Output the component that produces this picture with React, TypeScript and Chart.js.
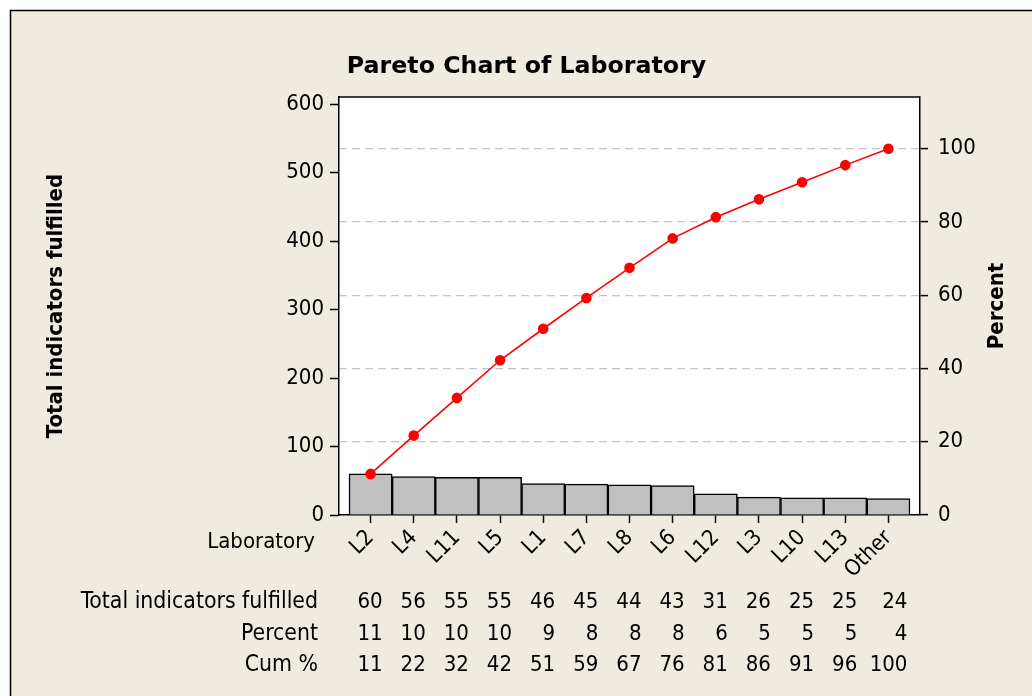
import React, { useEffect, useRef } from "react";
import { Chart, registerables } from "chart.js";

Chart.register(...registerables);

// ---- data ----
const categories = ["L2", "L4", "L11", "L5", "L1", "L7", "L8", "L6", "L12", "L3", "L10", "L13", "Other"];
const counts = [60, 56, 55, 55, 46, 45, 44, 43, 31, 26, 25, 25, 24];
const percents = [11, 10, 10, 10, 9, 8, 8, 8, 6, 5, 5, 5, 4];
const cumPercents = [11, 22, 32, 42, 51, 59, 67, 76, 81, 86, 91, 96, 100];
const countTicks = [0, 100, 200, 300, 400, 500, 600];
const percentTicks = [0, 20, 40, 60, 80, 100];
const countAxisMax = 610.5;

const total = counts.reduce((a, b) => a + b, 0);
const cumulativeCounts = counts.reduce<number[]>((acc, v) => {
  acc.push((acc.length ? acc[acc.length - 1] : 0) + v);
  return acc;
}, []);
const percentAxisMax = (countAxisMax / total) * 100;

const FAMILY = "'DejaVu Sans Condensed', 'DejaVu Sans', sans-serif";
const WIDE = "'DejaVu Sans', sans-serif";
const BG = "#efebe1";
const TICK_SIZE = 22;

const decorPlugin = {
  id: "decor",
  beforeDraw(chart: any) {
    const { ctx, width, height, chartArea: a } = chart;
    ctx.save();
    ctx.fillStyle = "#ffffff";
    ctx.fillRect(0, 0, width, height);
    ctx.fillStyle = BG;
    ctx.fillRect(10, 10, width - 10, height - 10);
    ctx.strokeStyle = "#000";
    ctx.lineWidth = 1.5;
    ctx.beginPath();
    ctx.moveTo(10.5, height);
    ctx.lineTo(10.5, 10.5);
    ctx.lineTo(width, 10.5);
    ctx.stroke();
    ctx.fillStyle = "#ffffff";
    ctx.fillRect(a.left, a.top, a.right - a.left, a.bottom - a.top);
    ctx.restore();
  },
  afterDraw(chart: any) {
    const { ctx, chartArea: a } = chart;
    const xs = chart.scales.x;
    ctx.save();
    // top frame line
    ctx.strokeStyle = "#000";
    ctx.lineWidth = 1.5;
    ctx.beginPath();
    ctx.moveTo(a.left, a.top);
    ctx.lineTo(a.right, a.top);
    ctx.stroke();

    ctx.fillStyle = "#000";
    // title
    ctx.font = `bold 23.7px ${WIDE}`;
    ctx.textAlign = "center";
    ctx.textBaseline = "alphabetic";
    ctx.fillText("Pareto Chart of Laboratory", 526.5, 73);

    // axis titles
    ctx.font = `bold 22px ${FAMILY}`;
    ctx.save();
    ctx.translate(62, (a.top + a.bottom) / 2);
    ctx.rotate(-Math.PI / 2);
    ctx.fillText("Total indicators fulfilled", 0, 0);
    ctx.restore();

    ctx.save();
    ctx.translate(1003, (a.top + a.bottom) / 2);
    ctx.rotate(-Math.PI / 2);
    ctx.fillText("Percent", 0, 0);
    ctx.restore();

    // category axis name
    ctx.font = `${TICK_SIZE}px ${FAMILY}`;
    ctx.textAlign = "right";
    ctx.fillText("Laboratory", 315, 548);

    // table
    const rows: [string, number[], number][] = [
      ["Total indicators fulfilled", counts, 608],
      ["Percent", percents, 640],
      ["Cum %", cumPercents, 671],
    ];
    rows.forEach(([label, vals, y]) => {
      ctx.textAlign = "right";
      ctx.font = `22.8px ${FAMILY}`;
      ctx.fillText(label, 318, y);
      ctx.font = `${TICK_SIZE}px ${FAMILY}`;
      vals.forEach((v, i) => {
        const extra = i === vals.length - 1 ? 19 : 12;
        ctx.fillText(String(v), xs.getPixelForValue(i) + extra, y);
      });
    });
    ctx.restore();
  },
};

export default function App() {
  const ref = useRef<HTMLCanvasElement | null>(null);
  useEffect(() => {
    if (!ref.current) return;
    const pad = 0.232;
    const chart = new Chart(ref.current, {
      type: "bar",
      data: {
        datasets: [
          {
            type: "line",
            label: "Cum",
            data: cumulativeCounts.map((v, i) => ({ x: i, y: v })),
            borderColor: "#ff0000",
            backgroundColor: "#ff0000",
            borderWidth: 1.6,
            pointRadius: 4.5,
            pointBackgroundColor: "#ff0000",
            pointBorderColor: "#ff0000",
            xAxisID: "x",
            yAxisID: "y",
            order: 0,
          } as any,
          {
            type: "bar",
            label: "Count",
            data: counts.map((v, i) => ({ x: i, y: v })),
            backgroundColor: "#c0c0c0",
            borderColor: "#000000",
            borderWidth: 1.5,
            barPercentage: 1,
            categoryPercentage: 1,
            xAxisID: "x",
            yAxisID: "y",
            order: 1,
          } as any,
        ],
      },
      options: {
        responsive: false,
        animation: false,
        layout: { padding: { top: 97, left: 0, right: 0, bottom: 0 } },
        plugins: {
          legend: { display: false },
          tooltip: { enabled: false },
          title: { display: false },
        },
        scales: {
          x: {
            type: "linear",
            offset: false,
            min: -0.5 - pad,
            max: categories.length - 0.5 + pad,
            afterBuildTicks: (s: any) => {
              s.ticks = categories.map((_, i) => ({ value: i }));
            },
            afterFit: (s: any) => {
              s.height = 181;
            },
            ticks: {
              callback: (v: any) => categories[v as number],
              autoSkip: false,
              minRotation: 45,
              maxRotation: 45,
              color: "#000",
              padding: 2,
              font: { family: FAMILY, size: TICK_SIZE },
            },
            grid: {
              offset: false,
              drawOnChartArea: false,
              drawTicks: true,
              tickLength: 8,
              tickColor: "#000",
              tickWidth: 1.5,
            },
            border: { display: true, color: "#000", width: 1.5 },
          },
          y: {
            position: "left",
            min: 0,
            max: countAxisMax,
            afterBuildTicks: (s: any) => {
              s.ticks = countTicks.map((v) => ({ value: v }));
            },
            afterFit: (s: any) => {
              s.width = 339;
            },
            ticks: {
              color: "#000",
              padding: 6,
              font: { family: FAMILY, size: TICK_SIZE },
            },
            grid: {
              drawOnChartArea: false,
              tickLength: 9,
              tickColor: "#000",
              tickWidth: 1.5,
            },
            border: { display: true, color: "#000", width: 1.5 },
          },
          y1: {
            position: "right",
            min: 0,
            max: percentAxisMax,
            afterBuildTicks: (s: any) => {
              s.ticks = percentTicks.map((v) => ({ value: v }));
            },
            afterFit: (s: any) => {
              s.width = 112;
            },
            ticks: {
              color: "#000",
              padding: 10,
              font: { family: FAMILY, size: TICK_SIZE },
            },
            grid: {
              drawOnChartArea: true,
              color: (c: any) => (c.tick && c.tick.value === 0 ? "rgba(0,0,0,0)" : "#c4c4c4"),
              lineWidth: 1.2,
              tickLength: 8,
              tickColor: "#000",
              tickWidth: 1.5,
              tickBorderDash: [],
            },
            border: { display: true, color: "#000", width: 1.5, dash: [8, 5] },
          },
        },
      } as any,
      plugins: [decorPlugin],
    });
    return () => chart.destroy();
  }, []);

  return (
    <div style={{ position: "absolute", left: 0, top: 0, width: 1032, height: 696 }}>
      <canvas ref={ref} width={1032} height={696} style={{ display: "block" }} />
    </div>
  );
}
